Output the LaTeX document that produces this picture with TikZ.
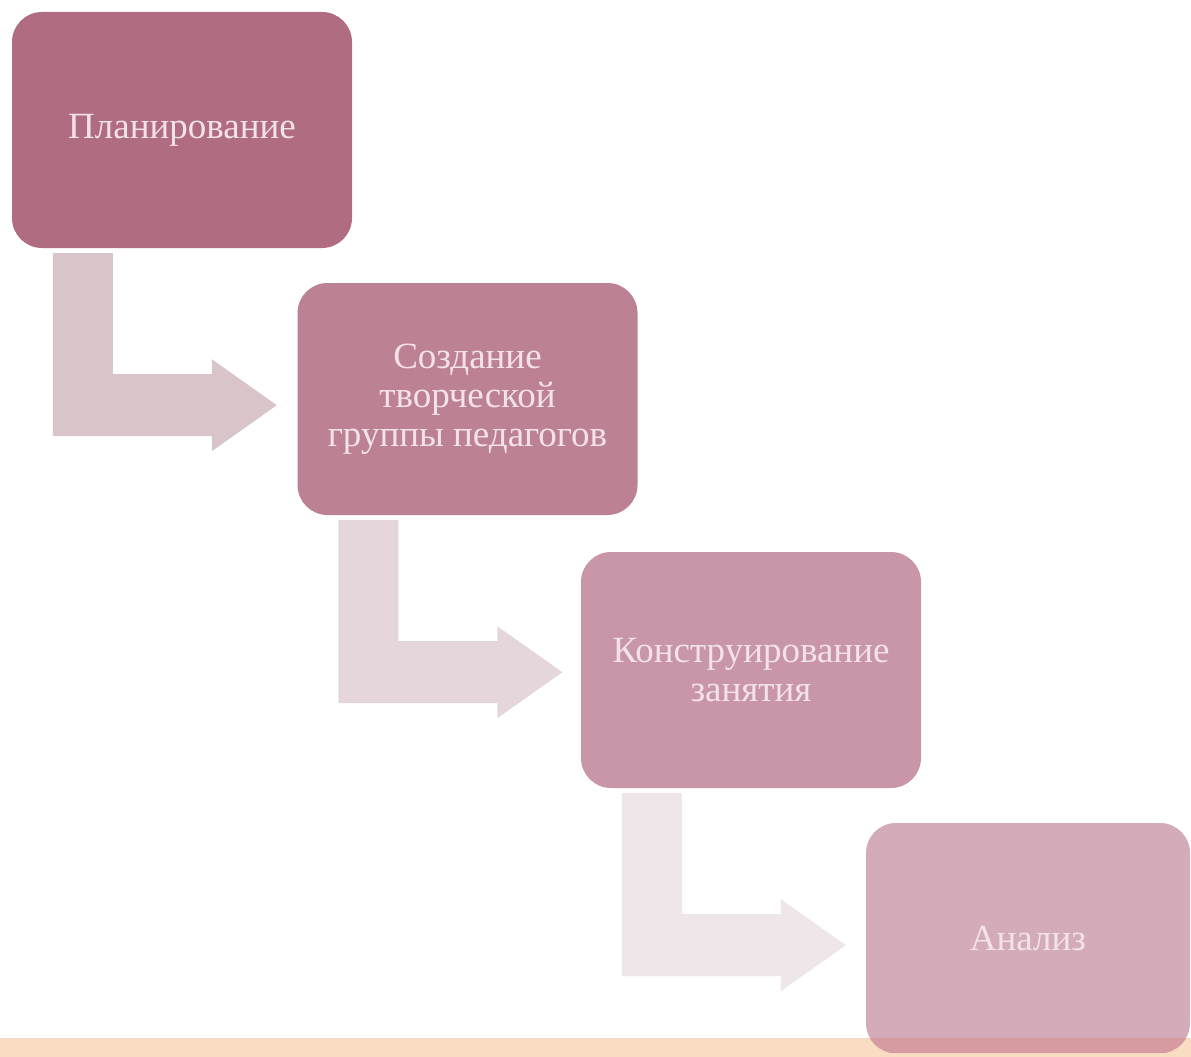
\documentclass[tikz,border=0pt]{standalone}
\usepackage{fontspec}
\setmainfont{Liberation Serif}
\definecolor{boxA}{HTML}{B06C80}
\definecolor{boxB}{HTML}{BC8294}
\definecolor{boxC}{HTML}{C896A8}
\definecolor{boxD}{HTML}{D4ACB9}
\definecolor{arrA}{HTML}{D9C5C9}
\definecolor{arrB}{HTML}{E4D6DA}
\definecolor{arrC}{HTML}{EEE6E8}
\definecolor{txt}{HTML}{F3E2E9}
\definecolor{band}{HTML}{F9DDC2}
\definecolor{bandline}{HTML}{EED9C6}
\definecolor{overlap}{HTML}{D79BA2}
\tikzset{
  stagebox/.style={rounded corners=30pt, minimum width=340pt, minimum height=236pt,
    inner sep=0pt, text=txt, align=center,
    font=\fontsize{37}{39}\selectfont},
  bentarrow/.style={fill=#1, draw=none}
}
\newcommand{\bentarrowpath}[2]{%
  \begin{scope}[shift={(#1)}]
    \fill[#2] (41,5) -- (101,5) -- (101,126) -- (200,126) -- (200,111)
      -- (265,157) -- (200,203) -- (200,188) -- (41,188) -- cycle;
  \end{scope}}
\begin{document}
\begin{tikzpicture}[x=1pt,y=-1pt]
\useasboundingbox (0,0) rectangle (1191,1057);
\fill[white] (0,0) rectangle (1191,1057);
\begin{scope}
\clip (0,0) rectangle (1191,1057);
% bottom band
\fill[band] (0,1038) rectangle (1191,1057);
\draw[bandline, line width=1.5pt] (0,1038.5) -- (1191,1038.5);
% boxes
\node[stagebox, fill=boxA] (b1) at (182,130) {Планирование};
\node[stagebox, fill=boxB, minimum height=232pt] (b2) at (467.5,399) {Создание\\творческой\\группы педагогов};
\node[stagebox, fill=boxC] (b3) at (751,670) {Конструирование\\занятия};
\node[stagebox, fill=boxD, minimum width=324pt, minimum height=230pt] (b4) at (1028,938) {};
\begin{scope}
  \clip[rounded corners=30pt] (b4.north west) rectangle (b4.south east);
  \fill[overlap] (b4.west |- 0,1038) rectangle (b4.south east);
\end{scope}
\node[text=txt, font=\fontsize{37}{39}\selectfont] (t4) at (b4.center) {Анализ};
% bent arrows between stages
\bentarrowpath{b1.south west}{arrA}
\bentarrowpath{b2.south west}{arrB}
\bentarrowpath{b3.south west}{arrC}
\end{scope}
\end{tikzpicture}
\end{document}
